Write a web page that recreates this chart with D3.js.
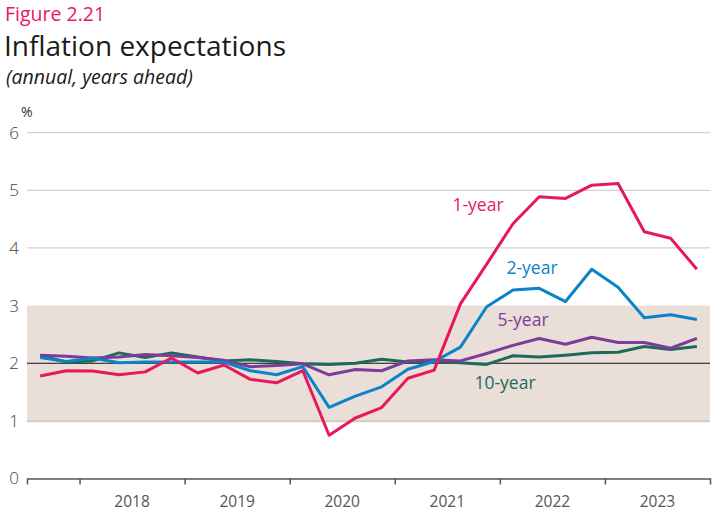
<!DOCTYPE html>
<html><head><meta charset="utf-8">
<script src="https://cdn.jsdelivr.net/npm/d3@7"></script>
<style>
body{margin:0;background:#fff;}
text{font-family:"Open Sans",sans-serif;}
</style></head>
<body><svg id="c" width="727" height="527"></svg>
<script>
// Quarterly, Q3 2017 .. Q4 2023 (decimal-year mid-quarter positions)
const quarters = d3.range(26).map(i => 2017.625 + i * 0.25);
const oneYear  = [1.78,1.87,1.865,1.80,1.85,2.09,1.83,1.97,1.72,1.66,1.87,0.75,1.05,1.23,1.74,1.88,3.03,3.72,4.42,4.89,4.86,5.09,5.12,4.28,4.17,3.63];
const twoYear  = [2.10,2.03,2.09,2.01,2.02,2.02,2.02,2.02,1.87,1.80,1.94,1.235,1.43,1.59,1.895,2.03,2.28,2.98,3.27,3.30,3.07,3.63,3.32,2.79,2.84,2.76];
const fiveYear = [2.14,2.12,2.09,2.11,2.15,2.13,2.10,2.05,1.94,1.96,1.99,1.80,1.89,1.87,2.04,2.06,2.04,2.17,2.31,2.43,2.33,2.45,2.36,2.36,2.26,2.43];
const tenYear  = [2.13,2.02,2.04,2.18,2.10,2.18,2.11,2.04,2.06,2.03,1.99,1.98,2.00,2.07,2.02,2.03,2.01,1.98,2.13,2.11,2.14,2.18,2.19,2.29,2.24,2.29];
const yTicks = [0,1,2,3,4,5,6];
const yearLabels = [2018,2019,2020,2021,2022,2023];
const yearBoundaries = [2018,2019,2020,2021,2022,2023];
const targetBand = [1,3];
const targetLine = 2;
const seriesNames = ["1-year","2-year","5-year","10-year"];
const seriesColors = ["#E8185E","#0A84C6","#7B3C9C","#1D6A58"];

const svg = d3.select("#c");
const x = d3.scaleLinear().domain([2017.5, 2024]).range([27, 710]);
const y = d3.scaleLinear().domain([0, 6]).range([478.5, 132.7]);

// Titles
svg.append("text").attr("x",5).attr("y",21).attr("fill","#E8185E").attr("font-size",19.5).text("Figure 2.21");
svg.append("text").attr("x",4).attr("y",55.5).attr("fill","#1a1a1a").attr("font-size",28).text("Inflation expectations");
svg.append("text").attr("x",6).attr("y",84).attr("fill","#1a1a1a").attr("font-size",19.5).attr("font-style","italic").text("(annual, years ahead)");
svg.append("text").attr("x",21).attr("y",117).attr("fill","#333").attr("font-size",14).text("%");

// Band
svg.append("rect").attr("x",x(2017.5)).attr("width",x(2024)-x(2017.5))
  .attr("y",y(targetBand[1])).attr("height",y(targetBand[0])-y(targetBand[1])).attr("fill","#EADFD8");
svg.append("line").attr("x1",x(2017.5)).attr("x2",x(2024)).attr("y1",y(targetBand[0])+0.5).attr("y2",y(targetBand[0])+0.5)
  .attr("stroke","#d6c9c1").attr("stroke-width",2);

// gridlines above band
[4,5,6].forEach(v => {
  svg.append("line").attr("x1",x(2017.5)).attr("x2",x(2024)).attr("y1",y(v)).attr("y2",y(v))
    .attr("stroke","#d2d2d2").attr("stroke-width",1.3);
});

// target line
svg.append("line").attr("x1",x(2017.5)).attr("x2",x(2024)).attr("y1",y(targetLine)).attr("y2",y(targetLine))
  .attr("stroke","#111").attr("stroke-width",1.2);

// Y axis labels
const yAxis = d3.axisLeft(y).tickValues(yTicks).tickSize(0).tickPadding(8).tickFormat(d3.format("d"));
const gy = svg.append("g").attr("transform",`translate(${x(2017.5)},0)`).call(yAxis);
gy.select(".domain").remove();
gy.selectAll("text").attr("font-size",17).attr("fill","#444").attr("font-family","Open Sans, sans-serif").attr("font-weight",300);

// X axis
const gx = svg.append("g").attr("transform",`translate(0,${y(0)})`)
  .call(d3.axisBottom(x).tickValues(yearBoundaries).tickSize(6).tickFormat(""));
gx.select(".domain").attr("stroke","#555").attr("stroke-width",1.5);
gx.selectAll(".tick line").attr("stroke","#555").attr("stroke-width",1.5);
svg.append("g").selectAll("text").data(yearLabels).join("text")
  .attr("x",d => x(d+0.5)).attr("y",y(0)+28).attr("text-anchor","middle")
  .attr("font-size",15.5).attr("fill","#555").text(d => d);

// Lines
const allSeries = [oneYear, twoYear, fiveYear, tenYear];
const line = d3.line().x((d,i) => x(quarters[i])).y(d => y(d));
[3,2,1,0].forEach(s => {
  svg.append("path").datum(allSeries[s]).attr("d",line).attr("fill","none")
    .attr("stroke",seriesColors[s]).attr("stroke-width",3).attr("stroke-linejoin","round");
});

// Labels
const labelPos = [[478,211],[532,274],[523,326],[505,389]];
seriesNames.forEach((n,i) => {
  svg.append("text").attr("x",labelPos[i][0]).attr("y",labelPos[i][1]).attr("text-anchor","middle")
    .attr("fill",seriesColors[i]).attr("font-size",17.5).text(n);
});
</script></body></html>
